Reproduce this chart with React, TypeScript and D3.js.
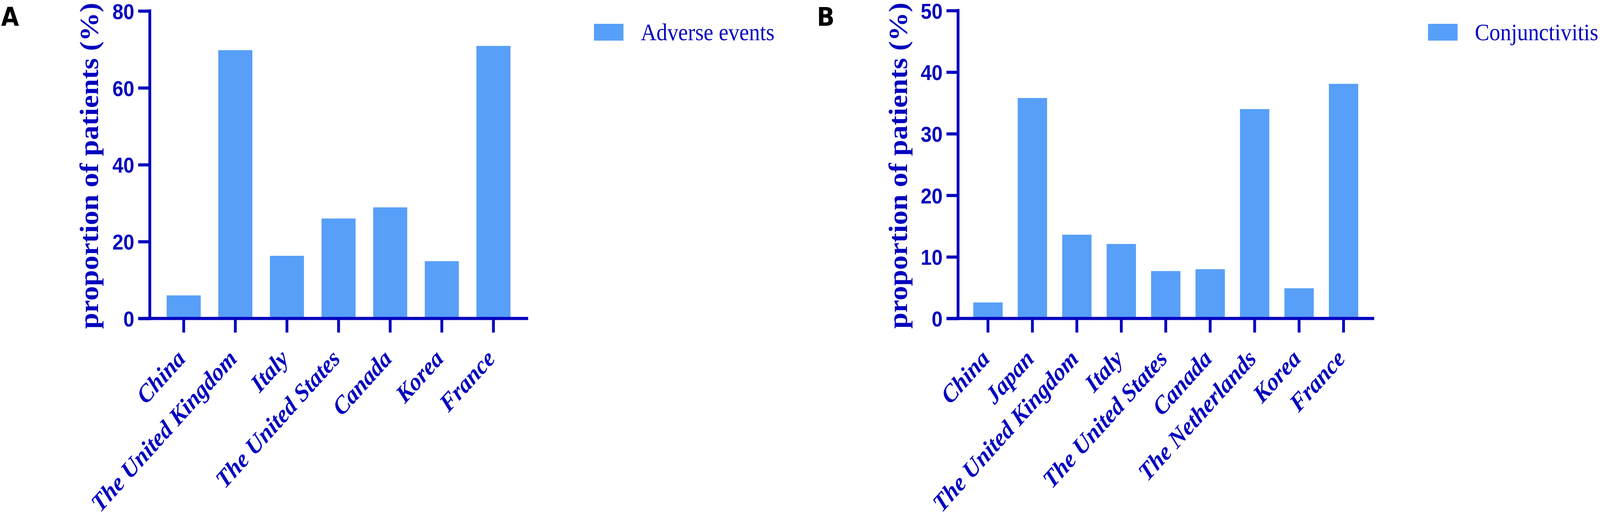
import React, { useEffect, useRef } from "react";
import * as d3 from "d3";

// ---------- data ----------
const categoriesA = ["China", "The United Kingdom", "Italy", "The United States", "Canada", "Korea", "France"];
const valuesA = [6, 69.8, 16.3, 26, 28.9, 14.9, 70.9];
const ticksA = [0, 20, 40, 60, 80];
const seriesA = "Adverse events";

const categoriesB = ["China", "Japan", "The United Kingdom", "Italy", "The United States", "Canada", "The Netherlands", "Korea", "France"];
const valuesB = [2.6, 35.8, 13.6, 12.1, 7.7, 8.0, 34.0, 4.9, 38.1];
const ticksB = [0, 10, 20, 30, 40, 50];
const seriesB = "Conjunctivitis";

const yTitle = "proportion of patients (%)";

// ---------- style ----------
const W = 4550;
const H = 1329;
const BLUE = "#0202BF";
const BAR = "#579FF9";
const SERIF = "'Liberation Serif', 'Times New Roman', serif";
const SANS = "'Liberation Sans', Arial, sans-serif";

type Panel = {
  letter: string;
  letterX: number;
  cats: string[];
  vals: number[];
  ticks: number[];
  series: string;
  axisX: number;
  top: number;
  zero: number;
  bandStart: number;
  step: number;
  axisEnd: number;
  titleX: number;
  legendX: number;
};

const panels: Panel[] = [
  {
    letter: "A", letterX: 3, cats: categoriesA, vals: valuesA, ticks: ticksA, series: seriesA,
    axisX: 426, top: 28, zero: 815.5, bandStart: 449, step: 146.8, axisEnd: 1502,
    titleX: 279, legendX: 1689,
  },
  {
    letter: "B", letterX: 2323, cats: categoriesB, vals: valuesB, ticks: ticksB, series: seriesB,
    axisX: 2724.5, top: 27, zero: 815.5, bandStart: 2746.3, step: 126.4, axisEnd: 3908,
    titleX: 2579, legendX: 4061,
  },
];

export default function App() {
  const ref = useRef<SVGSVGElement | null>(null);

  useEffect(() => {
    document.documentElement.style.margin = "0";
    document.body.style.margin = "0";
    const svg = d3.select(ref.current);
    svg.selectAll("*").remove();
    svg.append("rect").attr("width", W).attr("height", H).attr("fill", "#fff");

    panels.forEach((p) => {
      const g = svg.append("g");
      const n = p.cats.length;
      const x = d3
        .scaleBand<string>()
        .domain(p.cats)
        .range([p.bandStart, p.bandStart + n * p.step])
        .paddingInner(0.34)
        .paddingOuter(0.17);
      const maxT = p.ticks[p.ticks.length - 1];
      const y = d3.scaleLinear().domain([0, maxT]).range([p.zero, p.top]);

      // bars
      g.selectAll("rect.bar")
        .data(p.cats.map((c, i) => ({ c, v: p.vals[i] })))
        .enter()
        .append("rect")
        .attr("class", "bar")
        .attr("x", (d) => x(d.c)!)
        .attr("width", x.bandwidth())
        .attr("y", (d) => y(d.v))
        .attr("height", (d) => p.zero - y(d.v))
        .attr("fill", BAR);

      // y axis
      const yAxis = d3
        .axisLeft(y)
        .tickValues(p.ticks)
        .tickSize(33)
        .tickSizeOuter(0)
        .tickPadding(11)
        .tickFormat(d3.format("d") as any);
      const ya = g.append("g").attr("transform", `translate(${p.axisX},0)`).call(yAxis);
      ya.select(".domain").attr("stroke", BLUE).attr("stroke-width", 8).attr("d", `M0,${p.zero + 4}V${p.top - 4}`);
      ya.selectAll(".tick line").attr("stroke", BLUE).attr("stroke-width", 8);
      ya.selectAll(".tick text")
        .attr("fill", BLUE)
        .attr("font-family", SANS)
        .attr("font-weight", "bold")
        .attr("font-size", 56)
        .attr("dy", "0.36em");

      // x axis line
      g.append("line")
        .attr("x1", p.axisX - 33)
        .attr("x2", p.axisEnd)
        .attr("y1", p.zero)
        .attr("y2", p.zero)
        .attr("stroke", BLUE)
        .attr("stroke-width", 8);

      // x ticks
      const xAxis = d3.axisBottom(x).tickSize(34).tickSizeOuter(0).tickFormat(() => "");
      const xa = g.append("g").attr("transform", `translate(0,${p.zero + 2})`).call(xAxis);
      xa.select(".domain").remove();
      xa.selectAll(".tick line").attr("stroke", BLUE).attr("stroke-width", 8);

      // x labels
      g.selectAll("text.xl")
        .data(p.cats)
        .enter()
        .append("text")
        .attr("class", "xl")
        .attr("text-anchor", "end")
        .attr("transform", (c) => `translate(${x(c)! + x.bandwidth() / 2 + 8},922) rotate(-45)`)
        .attr("font-family", SERIF)
        .attr("font-weight", "bold")
        .attr("font-style", "italic")
        .attr("font-size", 64)
        .attr("fill", BLUE)
        .text((c) => c);

      // y title
      g.append("text")
        .attr("transform", `translate(${p.titleX},${(p.top + p.zero) / 2 + 3}) rotate(-90)`)
        .attr("text-anchor", "middle")
        .attr("font-family", SERIF)
        .attr("font-weight", "bold")
        .attr("font-size", 74)
        .attr("fill", BLUE)
        .text(yTitle);

      // legend
      g.append("rect")
        .attr("x", p.legendX)
        .attr("y", 61)
        .attr("width", 84)
        .attr("height", 43)
        .attr("fill", BAR);
      g.append("text")
        .attr("x", p.legendX + 133)
        .attr("y", 103)
        .attr("font-family", SERIF)
        .attr("font-size", 62)
        .attr("fill", BLUE)
        .text(p.series);

      // panel letter
      g.append("text")
        .attr("x", p.letterX)
        .attr("y", 66)
        .attr("font-family", "'DejaVu Sans', Arial, sans-serif")
        .attr("font-weight", "bold")
        .attr("font-size", 66)
        .attr("fill", "#000")
        .text(p.letter);
    });
  }, []);

  return (
    <svg
      ref={ref}
      viewBox={`0 0 ${W} ${H}`}
      preserveAspectRatio="none"
      style={{
        position: "fixed",
        left: 0,
        top: 0,
        display: "block",
        width: "100vw",
        height: "100vh",
      }}
    />
  );
}
